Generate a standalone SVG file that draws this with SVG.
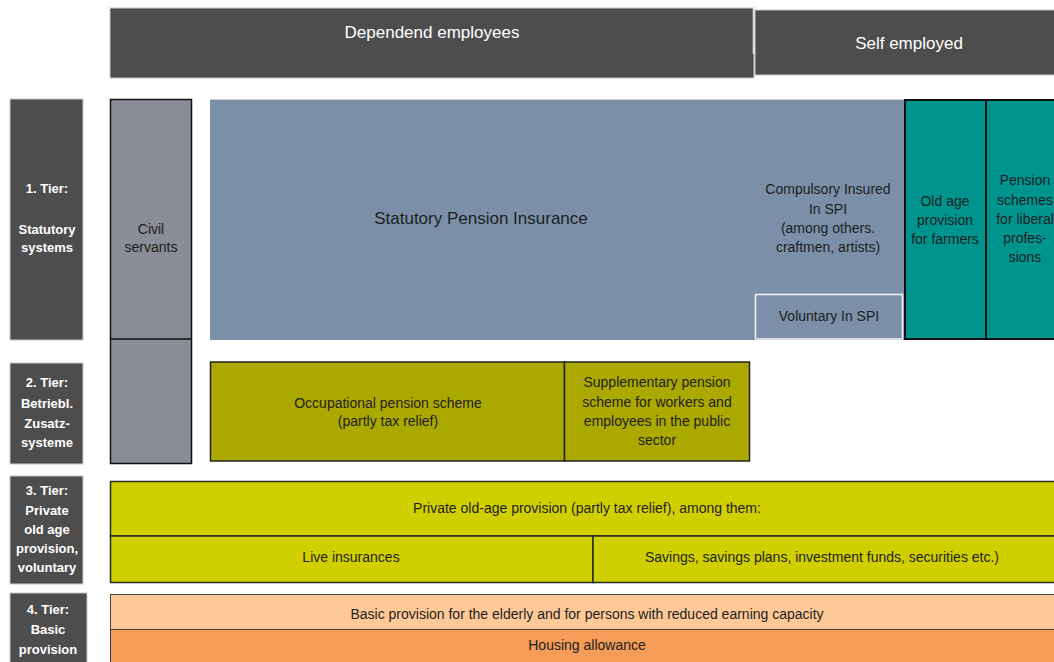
<svg xmlns="http://www.w3.org/2000/svg" width="1054" height="662" viewBox="0 0 1054 662">
  <style>
    .hdr { fill: #4d4d4d; stroke: #c8c8c8; stroke-width: 1; }
    .tier { fill: #4d4d4d; stroke: #c8c8c8; stroke-width: 1; }
    .hdr-t { font-family: "Liberation Sans", Arial, sans-serif; font-size: 17px; fill: #ffffff; text-anchor: middle; }
    .tier-t { font-family: "Liberation Sans", Arial, sans-serif; font-size: 13px; font-weight: bold; fill: #ffffff; text-anchor: middle; }
    .lbl { font-family: "Liberation Sans", Arial, sans-serif; font-size: 14px; fill: #1e1e1e; text-anchor: middle; }
    .big { font-family: "Liberation Sans", Arial, sans-serif; font-size: 17px; fill: #1e1e1e; text-anchor: middle; }
    .civil { fill: #8a8d96; stroke: #111; stroke-width: 1.5; }
    .spi { fill: #7b90a8; }
    .teal { fill: #00948f; stroke: #111; stroke-width: 2; }
    .olive { fill: #aba800; stroke: #222; stroke-width: 1.5; }
    .yellow { fill: #d0cf00; stroke: #2a2a2a; stroke-width: 1.5; }
    .peach { fill: #fec996; stroke: #444; stroke-width: 1; }
    .orange { fill: #f49c58; stroke: #444; stroke-width: 1; }
  </style>

  <rect width="1054" height="662" fill="#ffffff"/>

  <!-- column headers -->
  <g id="dependent-employees">
    <rect class="hdr" x="110" y="8" width="644" height="70"/>
    <text class="hdr-t" x="432" y="38">Dependend employees</text>
  </g>
  <g id="self-employed">
    <rect class="hdr" x="755" y="10" width="305" height="65"/>
    <line x1="753.5" y1="8" x2="753.5" y2="54" stroke="#e6e6e6" stroke-width="1.5"/>
    <text class="hdr-t" x="909" y="49">Self employed</text>
  </g>

  <!-- tier labels -->
  <g id="tier-1">
    <rect class="tier" x="10" y="99" width="73" height="241"/>
    <text class="tier-t" x="47" y="193">1. Tier:</text>
    <text class="tier-t" x="47" y="234"><tspan x="47">Statutory</tspan><tspan x="47" dy="18">systems</tspan></text>
  </g>
  <g id="tier-2">
    <rect class="tier" x="10" y="363" width="73" height="101"/>
    <text class="tier-t" x="47" y="387"><tspan x="47">2. Tier:</tspan><tspan x="47" dy="21">Betriebl.</tspan><tspan x="47" dy="20">Zusatz-</tspan><tspan x="47" dy="19">systeme</tspan></text>
  </g>
  <g id="tier-3">
    <rect class="tier" x="10" y="476" width="73" height="108"/>
    <text class="tier-t" x="47" y="495"><tspan x="47">3. Tier:</tspan><tspan x="47" dy="19.5">Private</tspan><tspan x="47" dy="19">old age</tspan><tspan x="47" dy="19">provision,</tspan><tspan x="47" dy="19">voluntary</tspan></text>
  </g>
  <g id="tier-4">
    <rect class="tier" x="10" y="593" width="77" height="75"/>
    <text class="tier-t" x="48" y="614"><tspan x="48">4. Tier:</tspan><tspan x="48" dy="19.5">Basic</tspan><tspan x="48" dy="20">provision</tspan></text>
  </g>

  <!-- first tier: statutory systems -->
  <g id="civil-servants">
    <rect class="civil" x="110.5" y="99.5" width="81" height="364"/>
    <line x1="110.5" y1="339" x2="191.5" y2="339" stroke="#111" stroke-width="1.5"/>
    <text class="lbl" x="151" y="234"><tspan x="151">Civil</tspan><tspan x="151" dy="18">servants</tspan></text>
  </g>
  <g id="statutory-pension-insurance">
    <rect class="spi" x="210" y="99" width="695" height="241"/>
    <line x1="210" y1="99.5" x2="905" y2="99.5" stroke="#c9d0d9" stroke-width="1"/>
    <text class="big" x="481" y="224">Statutory Pension Insurance</text>
  </g>
  <g id="compulsory-insured">
    <text class="lbl" x="828" y="194"><tspan x="828">Compulsory Insured</tspan><tspan x="828" dy="19.5">In SPI</tspan><tspan x="828" dy="19">(among others.</tspan><tspan x="828" dy="19">craftmen, artists)</tspan></text>
  </g>
  <g id="voluntary-spi">
    <rect x="755.5" y="294.5" width="147" height="44.5" fill="#7b90a8" stroke="#f4f4f4" stroke-width="1.5"/>
    <text class="lbl" x="829" y="321">Voluntary In SPI</text>
  </g>
  <g id="farmers">
    <rect class="teal" x="905" y="100" width="81" height="239"/>
    <text class="lbl" x="945" y="206"><tspan x="945">Old age</tspan><tspan x="945" dy="19">provision</tspan><tspan x="945" dy="19">for farmers</tspan></text>
  </g>
  <g id="liberal-professions">
    <rect class="teal" x="986" y="100" width="80" height="239"/>
    <text class="lbl" x="1025" y="185"><tspan x="1025">Pension</tspan><tspan x="1025" dy="19.5">schemes</tspan><tspan x="1025" dy="19">for liberal</tspan><tspan x="1025" dy="19">profes-</tspan><tspan x="1025" dy="19">sions</tspan></text>
  </g>

  <!-- second tier: occupational schemes -->
  <g id="occupational-pension">
    <rect class="olive" x="210.5" y="362" width="354" height="99"/>
    <text class="lbl" x="388" y="408"><tspan x="388">Occupational pension scheme</tspan><tspan x="388" dy="18">(partly tax relief)</tspan></text>
  </g>
  <g id="supplementary-pension">
    <rect class="olive" x="564.5" y="362" width="185" height="99"/>
    <text class="lbl" x="657" y="387"><tspan x="657">Supplementary pension</tspan><tspan x="657" dy="19.5">scheme for workers and</tspan><tspan x="657" dy="19">employees in the public</tspan><tspan x="657" dy="19">sector</tspan></text>
  </g>

  <!-- third tier: private provision -->
  <g id="private-provision">
    <rect class="yellow" x="110.5" y="481.5" width="950" height="54.5"/>
    <text class="lbl" x="587" y="513">Private old-age provision (partly tax relief), among them:</text>
  </g>
  <g id="life-insurances">
    <rect class="yellow" x="110.5" y="536" width="482.5" height="46.5"/>
    <text class="lbl" x="351" y="562">Live insurances</text>
  </g>
  <g id="savings">
    <rect class="yellow" x="593" y="536" width="467.5" height="46.5"/>
    <text class="lbl" x="822" y="562">Savings, savings plans, investment funds, securities etc.)</text>
  </g>

  <!-- fourth tier: basic provision -->
  <g id="basic-provision">
    <rect class="peach" x="110.5" y="594.5" width="950" height="35"/>
    <text class="lbl" x="587" y="619">Basic provision for the elderly and for persons with reduced earning capacity</text>
  </g>
  <g id="housing-allowance">
    <rect class="orange" x="110.5" y="629.5" width="950" height="40"/>
    <text class="lbl" x="587" y="650">Housing allowance</text>
  </g>

  <!-- no connectors in this chart -->
  <g id="connectors"/>
</svg>
